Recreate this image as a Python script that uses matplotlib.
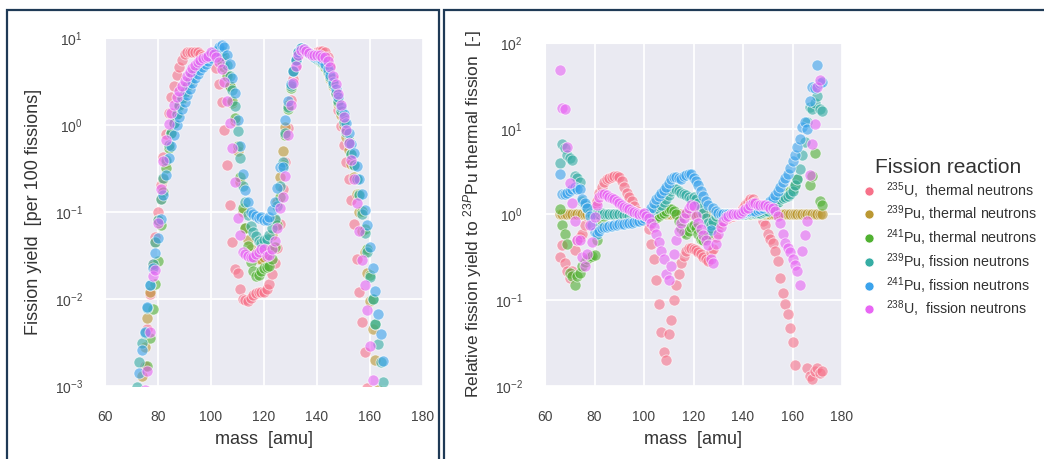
import numpy as np
import matplotlib
matplotlib.use("Agg")
import matplotlib.pyplot as plt
from matplotlib.lines import Line2D
from matplotlib.patches import Rectangle
import seaborn as sns

nan = np.nan

# mass numbers shared by all series
masses = np.arange(66, 173)

# 239Pu thermal fission yield [per 100 fissions], the reference of the ratio plot
pu239_thermal_yield = [
    1.2e-5, 2e-5, 3.5e-5, 6e-5, 1.0e-4, 1.7e-4, 3.5e-4, 7e-4, 1.3e-3, 2.8e-3,   # 66-75
    6e-3, 0.012, 0.024, 0.045, 0.08, 0.14, 0.24, 0.38, 0.58, 0.8,               # 76-85
    1.05, 1.35, 1.65, 2.0, 2.4, 2.8, 3.3, 3.8, 4.3, 4.8,                        # 86-95
    5.2, 5.6, 5.9, 6.2, 6.5, 6.7, 6.7, 6.6, 6.1, 5.2,                           # 96-105
    3.9, 2.8, 1.8, 1.1, 0.5, 0.22, 0.1, 0.065, 0.048, 0.038,                    # 106-115
    0.034, 0.031, 0.029, 0.029, 0.03, 0.033, 0.04, 0.055, 0.08, 0.13,           # 116-125
    0.25, 0.5, 0.95, 1.7, 2.8, 4.2, 5.6, 6.9, 7.6, 7.5,                         # 126-135
    7.1, 6.7, 6.3, 6.0, 5.8, 5.5, 5.1, 4.6, 4.0, 3.4,                           # 136-145
    2.8, 2.25, 1.75, 1.3, 0.98, 0.73, 0.52, 0.36, 0.25, 0.16,                   # 146-155
    0.1, 0.06, 0.035, 0.02, 0.0095, 0.0045, 0.002, 9e-4, 3.8e-4, 1.6e-4,        # 156-165
    7e-5, 3e-5, 1.3e-5, 6e-6, 2.6e-6, 1.2e-6, 5e-7,                             # 166-172
]

# yields relative to 239Pu thermal fission [-]
ratio_u235_thermal = [
    0.32, 0.44, 0.27, 0.22, 0.18, 0.22, 0.39, 0.5, 0.55, 0.6,
    0.75, 0.95, 1.05, 1.15, 1.25, 1.45, 1.8, 2.1, 2.4, 2.6,
    2.7, 2.75, 2.8, 2.8, 2.75, 2.45, 2.1, 1.8, 1.6, 1.45,
    1.25, 1.1, 1.0, 0.95, 0.95, 0.85, 0.68, 0.45, 0.3, 0.17,
    0.09, 0.043, 0.025, 0.02, 0.04, 0.059, 0.1, 0.15, 0.2, 0.27,
    0.33, 0.38, 0.41, 0.41, 0.4, 0.39, 0.37, 0.35, 0.32, 0.3,
    0.29, 0.37, 0.4, 0.55, 0.7, 0.8, 0.85, 0.9, 0.92, 0.95,
    0.97, 1.0, 1.05, 1.1, 1.2, 1.3, 1.4, 1.5, 1.5, 1.4,
    1.2, 1.0, 0.85, 0.75, 0.6, 0.52, 0.46, 0.38, 0.29, 0.18,
    0.12, 0.09, 0.07, 0.047, 0.033, 0.0176, nan, nan, nan, nan,
    0.016, 0.013, 0.012, 0.015, 0.016, 0.014, 0.015,
]
ratio_pu239_thermal = [1.0] * len(masses)
ratio_pu241_thermal = [
    1.15, 0.75, 0.6, 0.45, 0.21, 0.19, 0.15, 0.19, 0.21, 0.25,
    0.28, 0.3, 0.32, 0.33, 0.34, 0.5, 0.7, 0.85, 0.95, 1.0,
    1.0, 1.0, 1.0, 1.0, 0.98, 0.97, 0.95, 0.95, 0.95, 0.95,
    0.95, 0.95, 0.95, 0.95, 0.95, 0.95, 0.92, 0.9, 0.88, 0.9,
    0.95, 1.0, 1.05, 1.1, 1.15, 1.15, 1.1, 1.0, 0.85, 0.7,
    0.62, 0.6, 0.65, 0.72, 0.76, 0.7, 0.6, 0.52, 0.5, 0.55,
    0.6, 0.7, 0.8, 0.9, 0.95, 1.0, 1.0, 1.0, 1.0, 1.0,
    1.0, 1.0, 1.0, 1.0, 1.0, 1.0, 1.0, 1.02, 1.03, 1.05,
    1.05, 1.05, 1.05, 1.1, 1.15, 1.2, 1.25, 1.3, 1.4, 1.5,
    1.6, 1.7, 1.8, 1.9, 2.0, 2.2, 2.6, nan, nan, nan,
    nan, 2.2, 2.8, 5.2, nan, 1.45, 1.3,
]
ratio_pu239_fast = [
    4.0, 6.6, 6.0, 5.0, 4.5, 4.3, 2.8, 2.7, 2.4, 1.45,
    1.3, 1.2, 1.05, 1.0, 1.0, 1.0, 1.02, 1.03, 1.02, 1.0,
    1.0, 1.0, 1.02, 1.02, 1.0, 1.0, 0.98, 0.98, 0.97, 0.97,
    0.97, 0.98, 0.98, 0.99, 1.0, 1.02, 1.05, 1.1, 1.15, 1.2,
    1.25, 1.3, 1.4, 1.5, 1.7, 1.9, 2.0, 2.0, 1.9, 1.8,
    1.75, 1.7, 1.6, 1.5, 1.6, 1.5, 1.35, 1.2, 1.05, 0.9,
    0.8, 0.75, 0.85, 0.95, 1.0, 1.0, 1.0, 1.0, 1.0, 1.0,
    1.0, 1.0, 1.0, 1.0, 1.0, 1.02, 1.03, 1.05, 1.05, 1.05,
    1.05, 1.05, 1.08, 1.1, 1.1, 1.15, 1.2, 1.3, 1.4, 1.5,
    1.55, 1.6, 1.65, 1.75, 1.9, 2.2, 2.6, 3.4, 5.0, 7.0,
    12.0, 18.0, 17.0, 20.0, 24.0, 17.0, 16.0,
]
ratio_pu241_fast = [
    2.95, 1.75, 1.75, 1.8, 1.9, 2.0, 2.1, 2.0, 2.0, 1.5,
    1.35, 1.2, 0.95, 0.75, 0.62, 0.6, 0.65, 0.7, 0.72, 0.72,
    0.73, 0.74, 0.75, 0.76, 0.77, 0.78, 0.78, 0.79, 0.8, 0.8,
    0.82, 0.83, 0.85, 0.87, 0.9, 0.95, 1.05, 1.2, 1.35, 1.5,
    1.65, 1.8, 1.95, 2.1, 2.3, 2.6, 2.75, 2.75, 2.7, 2.6,
    2.8, 2.9, 2.95, 3.0, 2.7, 2.45, 2.2, 1.9, 1.65, 1.45,
    1.3, 0.66, 1.2, 1.1, 1.05, 1.0, 1.0, 1.0, 1.0, 1.0,
    1.0, 1.0, 1.0, 1.02, 1.05, 1.08, 1.1, 1.1, 1.1, 1.1,
    1.12, 1.15, 1.2, 1.25, 1.35, 1.45, 1.55, 1.7, 1.9, 2.1,
    2.4, 2.7, 3.0, 3.5, 4.2, 5.0, 6.2, 7.5, 10.5, 12.0,
    10.0, 21.0, 31.0, 30.0, 55.0, 34.0, 35.0,
]
ratio_u238_fast = [
    49.0, 17.5, 17.0, 6.2, 2.3, 1.35, 0.83, 0.5, 0.5, 0.32,
    0.25, 0.35, 0.76, 0.48, 0.94, 1.3, 1.6, 1.75, 1.75, 1.7,
    1.6, 1.55, 1.5, 1.42, 1.35, 1.3, 1.23, 1.2, 1.15, 1.1,
    1.07, 1.05, 1.02, 1.0, 1.05, 0.97, 0.9, 0.8, 0.72, 0.6,
    0.48, 0.38, 0.3, 0.2, 0.17, 0.25, 0.35, 0.5, 0.65, 0.8,
    0.9, 1.05, 1.2, 1.3, 1.25, 0.95, 0.8, 0.68, 0.58, 0.5,
    0.44, 0.3, 0.27, 0.45, 0.6, 0.72, 0.85, 0.93, 0.96, 1.0,
    1.0, 1.0, 1.02, 1.05, 1.1, 1.15, 1.2, 1.3, 1.35, 1.35,
    1.3, 1.3, 1.3, 1.3, 1.25, 1.2, 1.2, 1.1, 0.95, 0.8,
    0.6, 0.47, 0.41, 0.37, 0.3, 0.26, 0.22, 0.15, 0.38, 0.57,
    0.83, 2.9, 6.6, 11.5, 31.0, 37.0, nan,
]

labels = [
    r"$^{235}$U,  thermal neutrons",
    r"$^{239}$Pu, thermal neutrons",
    r"$^{241}$Pu, thermal neutrons",
    r"$^{239}$Pu, fission neutrons",
    r"$^{241}$Pu, fission neutrons",
    r"$^{238}$U,  fission neutrons",
]
ratios = [ratio_u235_thermal, ratio_pu239_thermal, ratio_pu241_thermal,
          ratio_pu239_fast, ratio_pu241_fast, ratio_u238_fast]
colors = sns.color_palette("husl", 6)

sns.set_style("darkgrid")
plt.rcParams["font.family"] = ["Liberation Sans", "DejaVu Sans"]
plt.rcParams["mathtext.fontset"] = "custom"
plt.rcParams["mathtext.rm"] = "Liberation Sans"
plt.rcParams["mathtext.it"] = "Liberation Sans:italic"
plt.rcParams["mathtext.default"] = "regular"

fig = plt.figure(figsize=(10.44, 4.59), dpi=100)
ax1 = fig.add_axes([105 / 1044, 73 / 459, 318 / 1044, 348 / 459])
ax2 = fig.add_axes([545 / 1044, 73 / 459, 297 / 1044, 343 / 459])

pu = np.array(pu239_thermal_yield)
for ratio, color in zip(ratios, colors):
    r = np.array(ratio, dtype=float)
    ax1.scatter(masses, r * pu, s=64, color=color, alpha=0.6,
                edgecolor="white", linewidth=0.7, zorder=3)
    ax2.scatter(masses, r, s=64, color=color, alpha=0.6,
                edgecolor="white", linewidth=0.7, zorder=3)

for ax in (ax1, ax2):
    ax.set_yscale("log")
    ax.set_xlim(60, 180)
    ax.set_xticks([60, 80, 100, 120, 140, 160, 180])
    ax.tick_params(axis="both", labelsize=10, colors="#444444")
    ax.tick_params(axis="y", pad=12.5)
    ax.tick_params(axis="x", pad=14)
    ax.grid(True, which="major", color="white", linewidth=1.3)
    ax.grid(False, which="minor")
    ax.set_xlabel("mass  [amu]", fontsize=13, color="#333333")

ax1.set_ylim(1e-3, 10)
ax2.set_ylim(1e-2, 100)
ax1.set_ylabel("Fission yield  [per 100 fissions]", fontsize=13, color="#333333")
ax2.set_ylabel(r"Relative fission yield to $^{23\mathit{P}}$Pu thermal fission  [-]",
               fontsize=12.5, color="#333333")
ax1.yaxis.set_label_coords(-0.198, 0.5)
ax2.yaxis.set_label_coords(-0.205, 0.5)
ax1.xaxis.set_label_coords(0.5, -0.13)
ax2.xaxis.set_label_coords(0.5, -0.132)

handles = [Line2D([], [], marker="o", linestyle="", markersize=6.5,
                  markerfacecolor=c, markeredgecolor="white", markeredgewidth=0.5)
           for c in colors]
leg = fig.legend(handles, labels, title="Fission reaction", loc="upper left",
                 bbox_to_anchor=(0.812, 0.684), frameon=False, fontsize=10.3,
                 title_fontsize=15, handletextpad=0.55, labelspacing=0.22,
                 handlelength=1.2)
for t in leg.get_texts():
    t.set_color("#333333")
leg.get_title().set_color("#333333")

# dark frames around both panels
frame = "#1f3a56"
fig.add_artist(Rectangle((7 / 1044, -0.02), 432 / 1044, (449 / 459) + 0.02,
                         transform=fig.transFigure, fill=False, ec=frame, lw=1.6))
fig.add_artist(Rectangle((444 / 1044, -0.02), 620 / 1044, (449 / 459) + 0.02,
                         transform=fig.transFigure, fill=False, ec=frame, lw=1.6))

fig.savefig("out.png", dpi=100, facecolor="white")
